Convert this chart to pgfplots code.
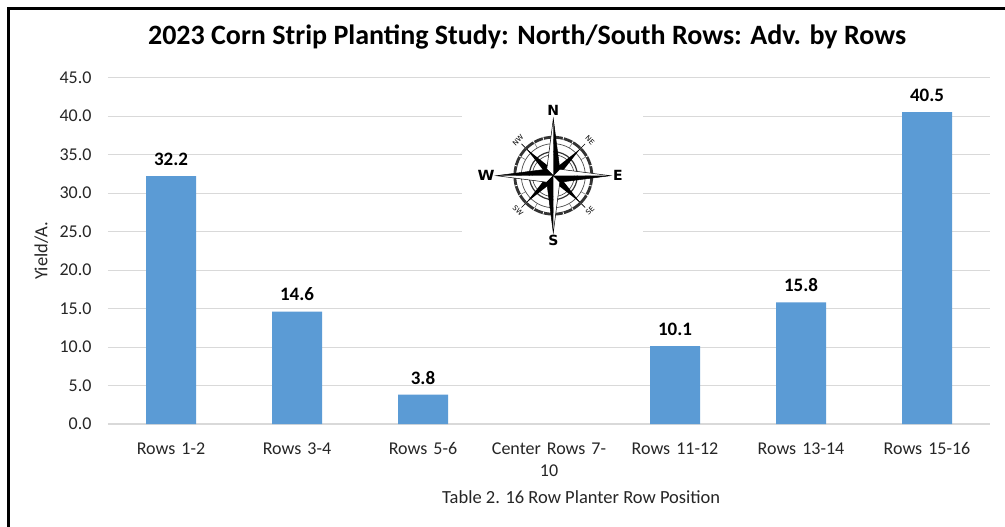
\documentclass[border=0pt]{standalone}
\usepackage{pgfplots}
\pgfplotsset{compat=1.18}
\usepackage{fontspec}
\setmainfont{Carlito}
\definecolor{barblue}{HTML}{5B9BD5}
\definecolor{gridgrey}{HTML}{D9D9D9}
\definecolor{txt}{HTML}{262626}
\begin{document}
\begin{tikzpicture}[x=1pt,y=-1pt]
\path[use as bounding box] (0,0) rectangle (1005,527);
\fill[white] (0,0) rectangle (1005,527);
\begin{axis}[
  at={(108pt,-424pt)}, anchor=south west,
  scale only axis, width=882pt, height=346.5pt,
  xmin=-0.5, xmax=6.5, ymin=0, ymax=45,
  ytick={0,5,...,45},
  xtick={0,1,2,3,4,5,6},
  xticklabels={Rows 1-2,Rows 3-4,Rows 5-6,{Center Rows 7-\\10},Rows 11-12,Rows 13-14,Rows 15-16},
  major tick length=0pt,
  axis x line*=bottom, axis y line*=left,
  y axis line style={draw=none},
  x axis line style={draw=gridgrey,line width=1.2pt,-},
  grid=major, xmajorgrids=false,
  major grid style={draw=gridgrey,line width=1pt},
  /pgf/number format/assume math mode=true,
  yticklabel={\pgfmathprintnumber[fixed,fixed zerofill,precision=1,assume math mode=true]{\tick}},
  tick label style={font=\fontsize{18}{22}\selectfont,text=txt},
  yticklabel style={xshift=-13pt},
  xticklabel style={align=center,text width=122pt,yshift=-15pt},
  xlabel={Table 2. 16 Row Planter Row Position},
  ylabel={Yield/A.},
  xlabel style={at={(axis description cs:0.5365,-0.2105)},anchor=center,font=\fontsize{18.5}{22}\selectfont,text=txt},
  ylabel style={at={(axis description cs:-0.0755,0.5)},anchor=center,font=\fontsize{18.5}{20}\selectfont,text=txt},
  clip=false,
]
\addplot[ybar,bar width=50pt,fill=barblue,draw=none,
  nodes near coords,
  every node near coord/.append style={font=\bfseries\fontsize{19}{22}\selectfont,text=black,yshift=7pt,
    /pgf/number format/fixed,/pgf/number format/fixed zerofill,/pgf/number format/precision=1,/pgf/number format/assume math mode=true}]
  coordinates {(0,32.2) (1,14.6) (2,3.8) (4,10.1) (5,15.8) (6,40.5)};
\end{axis}
% frame
\draw[black,line width=3pt] (8.5,527) -- (8.5,8.5) -- (1005,8.5);
% title
\node[font=\bfseries\fontsize{28}{32}\selectfont,text=black] at (527,37) {2023 Corn Strip Planting Study: North/South Rows: Adv. by Rows};
% compass image
\fill[white] (462,98) rectangle (643,250);
\begin{scope}[shift={(553.3,175.7)}]
  \draw[black!80,line width=2.8pt] (0,0) circle (38.5);
  \draw[black!70,line width=0.7pt] (0,0) circle (32);
  \draw[black!80,line width=1.2pt] (0,0) circle (24);
  \draw[black!70,line width=0.7pt] (0,0) circle (21);
  \foreach \a in {0,15,...,345}{\draw[white,line width=0.8pt] (\a:37.2) -- (\a:40);}
  \foreach \a in {0,30,...,330}{\draw[black!60,line width=0.5pt] (\a:32) -- (\a:37);}
  % diagonals
  \foreach \a in {45,135,225,315}{
    \fill[black] (0,0) -- (\a+20:10) -- (\a:38) -- (\a-20:10) -- cycle;
    \draw[black,line width=0.6pt] (\a:8) -- (\a:45);
  }
  % cardinal arms
  \foreach \a in {0,90,180,270}{
    \begin{scope}[rotate=\a]
      \fill[white] (0,0) -- (-6.5,-6.5) -- (0,-57) -- cycle;
      \fill[black] (0,0) -- (6.5,-6.5) -- (0,-57) -- cycle;
      \draw[black,line width=0.5pt] (0,0) -- (-6.5,-6.5) -- (0,-57) -- (6.5,-6.5) -- cycle;
    \end{scope}
  }
\end{scope}
\def\cmp{\fontspec{DejaVu Sans}\bfseries}
\node[font=\cmp\fontsize{14}{16}\selectfont] at (553.3,110.5) {N};
\node[font=\cmp\fontsize{14}{16}\selectfont] at (553.3,240) {S};
\node[font=\cmp\fontsize{14}{16}\selectfont,xscale=1.1] at (486,175.7) {W};
\node[font=\cmp\fontsize{14}{16}\selectfont] at (618,175.7) {E};
\node[font=\fontspec{DejaVu Sans}\fontsize{7}{8}\selectfont,rotate=45] at (518,140) {NW};
\node[font=\fontspec{DejaVu Sans}\fontsize{7}{8}\selectfont,rotate=-45] at (590,140) {NE};
\node[font=\fontspec{DejaVu Sans}\fontsize{7}{8}\selectfont,rotate=-45] at (518,211) {SW};
\node[font=\fontspec{DejaVu Sans}\fontsize{7}{8}\selectfont,rotate=45] at (590,211) {SE};
\end{tikzpicture}
\end{document}
